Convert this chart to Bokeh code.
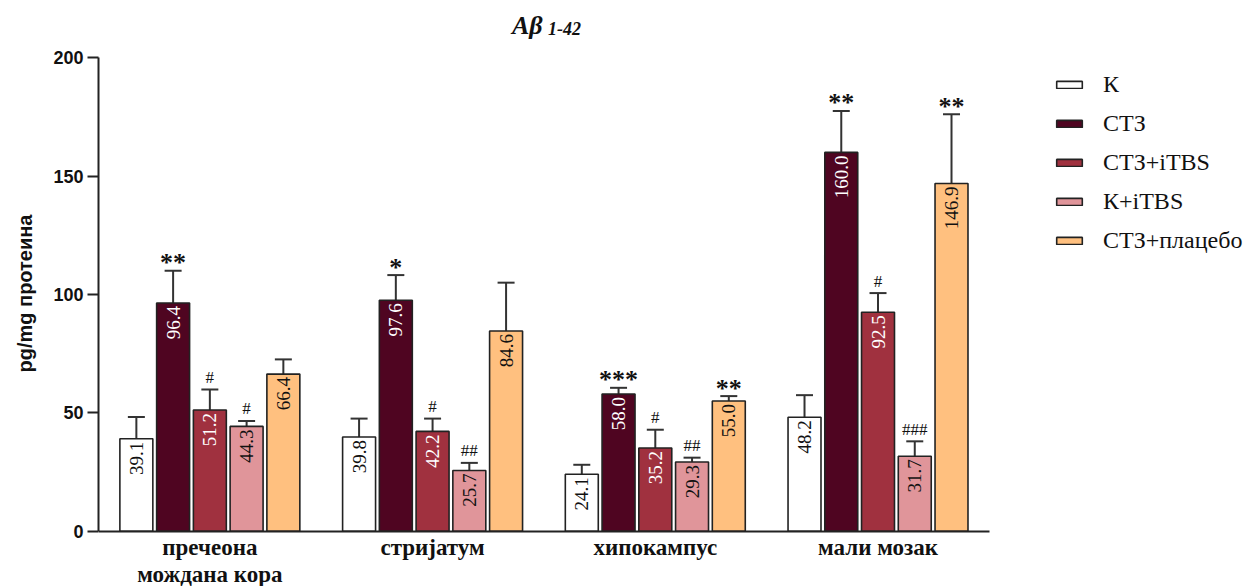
import math
from bokeh.plotting import figure
from bokeh.models import (ColumnDataSource, Whisker, TeeHead, FixedTicker,
                          Legend, LegendItem)
from bokeh.core.properties import value
from bokeh.embed import file_html
from bokeh.resources import INLINE

# ---------------- data ----------------
regions = ["пречеона\nмождана кора", "стријатум", "хипокампус", "мали мозак"]
series_names = ["К", "СТЗ", "СТЗ+iTBS", "К+iTBS", "СТЗ+плацебо"]

k_vals = [39.1, 39.8, 24.1, 48.2]
ctz_vals = [96.4, 97.6, 58.0, 160.0]
ctz_itbs_vals = [51.2, 42.2, 35.2, 92.5]
k_itbs_vals = [44.3, 25.7, 29.3, 31.7]
placebo_vals = [66.4, 84.6, 55.0, 146.9]

k_err = [9.2, 7.8, 4.0, 9.3]
ctz_err = [13.6, 10.6, 2.6, 17.5]
ctz_itbs_err = [8.7, 5.4, 7.7, 8.1]
k_itbs_err = [2.3, 3.2, 1.8, 6.3]
placebo_err = [6.2, 20.4, 2.1, 29.2]

k_sig = ["", "", "", ""]
ctz_sig = ["**", "*", "***", "**"]
ctz_itbs_sig = ["#", "#", "#", "#"]
k_itbs_sig = ["#", "##", "##", "###"]
placebo_sig = ["", "", "**", "**"]

y_ticks = [0, 50, 100, 150, 200]
title_main = "Aβ"
title_sub = "1-42"

# ---------------- styling ----------------
colors = ["#FFFFFF", "#4F0521", "#A0313F", "#E0959A", "#FFC07F"]
label_colors = ["#111111", "#FFFFFF", "#FFFFFF", "#111111", "#111111"]
pitch = 0.165
bar_w = 0.148
offsets = [-2 * pitch, -pitch, 0.0, pitch, 2 * pitch]

all_vals = [k_vals, ctz_vals, ctz_itbs_vals, k_itbs_vals, placebo_vals]
all_err = [k_err, ctz_err, ctz_itbs_err, k_itbs_err, placebo_err]
all_sig = [k_sig, ctz_sig, ctz_itbs_sig, k_itbs_sig, placebo_sig]

n_groups = len(regions)
centers = [i + 0.5 for i in range(n_groups)]

p = figure(width=1245, height=586, x_range=(0, 5.15), y_range=(-23.3, 224.15),
           output_backend="svg", toolbar_location=None,
           min_border_left=98, min_border_top=0, min_border_bottom=0,
           min_border_right=0)
p.xgrid.visible = False
p.ygrid.visible = False
p.outline_line_color = None

legend_items = []
for s in range(5):
    xs = [c + offsets[s] for c in centers]
    tops = all_vals[s]
    uppers = [v + e for v, e in zip(tops, all_err[s])]
    src = ColumnDataSource(dict(x=xs, top=tops, upper=uppers,
                                lbl=["%.1f" % v for v in tops],
                                sig=all_sig[s]))
    w = Whisker(source=src, base="x", upper="upper", lower="top",
                dimension="height", line_color="#333333", line_width=2,
                upper_head=TeeHead(size=17, line_color="#333333", line_width=2),
                lower_head=None, level="underlay")
    p.add_layout(w)
    r = p.vbar(x="x", top="top", width=bar_w, source=src,
               fill_color=colors[s], line_color="#222222", line_width=1.6)
    legend_items.append(LegendItem(label=series_names[s], renderers=[r]))
    p.text(x="x", y="top", text="lbl", source=src, angle=math.pi / 2,
           text_align="right", text_baseline="middle", y_offset=3,
           text_font=value("Liberation Serif"), text_font_size="19px",
           text_color=label_colors[s])
    if any("*" in t for t in all_sig[s]):
        p.text(x="x", y="upper", text="sig", source=src, text_align="center",
               text_baseline="alphabetic", y_offset=-8,
               text_font=value("Liberation Serif"), text_font_style="bold",
               text_font_size="26px", text_color="#111111")
    else:
        p.text(x="x", y="upper", text="sig", source=src, text_align="center",
               text_baseline="alphabetic", y_offset=-12,
               text_font=value("Liberation Serif"),
               text_font_size="17px", text_color="#111111")

# category labels under the baseline
cat_src = ColumnDataSource(dict(x=centers, y=[0] * n_groups, text=regions))
p.text(x="x", y="y", text="text", source=cat_src, text_align="center",
       text_baseline="top", y_offset=4, text_line_height=1.05,
       text_font=value("Liberation Serif"), text_font_style="bold",
       text_font_size="23px", text_color="#111111")

# title
p.text(x=[n_groups / 2], y=[200], text=[title_main], x_offset=-32, y_offset=-32,
       text_align="left", text_baseline="alphabetic",
       text_font=value("Liberation Serif"), text_font_style="bold italic",
       text_font_size="26px", text_color="#111111")
p.text(x=[n_groups / 2], y=[200], text=[title_sub], x_offset=4, y_offset=-29,
       text_align="left", text_baseline="alphabetic",
       text_font=value("Liberation Serif"), text_font_style="bold italic",
       text_font_size="18px", text_color="#111111")

# x axis: line at y=0 spanning the groups only
p.xaxis.fixed_location = 0
p.xaxis.bounds = (0, n_groups)
p.xaxis.ticker = FixedTicker(ticks=[])
p.xaxis.major_tick_line_color = None
p.xaxis.major_tick_out = 0
p.xaxis.major_tick_in = 0
p.xaxis.major_label_standoff = 0
p.xaxis.minor_tick_line_color = None
p.xaxis.minor_tick_out = 0
p.xaxis.axis_line_width = 2
p.xaxis.axis_line_color = "#222222"

# y axis
p.yaxis.bounds = (0, 200)
p.yaxis.ticker = FixedTicker(ticks=y_ticks)
p.yaxis.minor_tick_line_color = None
p.yaxis.major_tick_in = 0
p.yaxis.major_tick_out = 11
p.yaxis.major_tick_line_width = 2
p.yaxis.axis_line_width = 2
p.yaxis.axis_line_color = "#222222"
p.yaxis.major_tick_line_color = "#222222"
p.yaxis.major_label_text_font = "Liberation Sans"
p.yaxis.major_label_text_font_style = "bold"
p.yaxis.major_label_text_font_size = "18px"
p.yaxis.major_label_text_color = "#111111"
p.yaxis.major_label_standoff = 4
p.yaxis.axis_label = "pg/mg протеина"
p.yaxis.axis_label_text_font = "Liberation Sans"
p.yaxis.axis_label_text_font_style = "bold"
p.yaxis.axis_label_text_font_size = "20px"
p.yaxis.axis_label_text_color = "#111111"
p.yaxis.axis_label_standoff = 14

# legend
legend = Legend(items=legend_items, location=(955, 326),
                glyph_width=32, glyph_height=9, label_height=39,
                label_standoff=18, spacing=0, padding=0, margin=0,
                border_line_color=None, background_fill_alpha=0,
                label_text_font="Liberation Serif", label_text_font_size="24px",
                label_text_color="#111111")
p.add_layout(legend)

open("out.html", "w").write(file_html(p, INLINE))
